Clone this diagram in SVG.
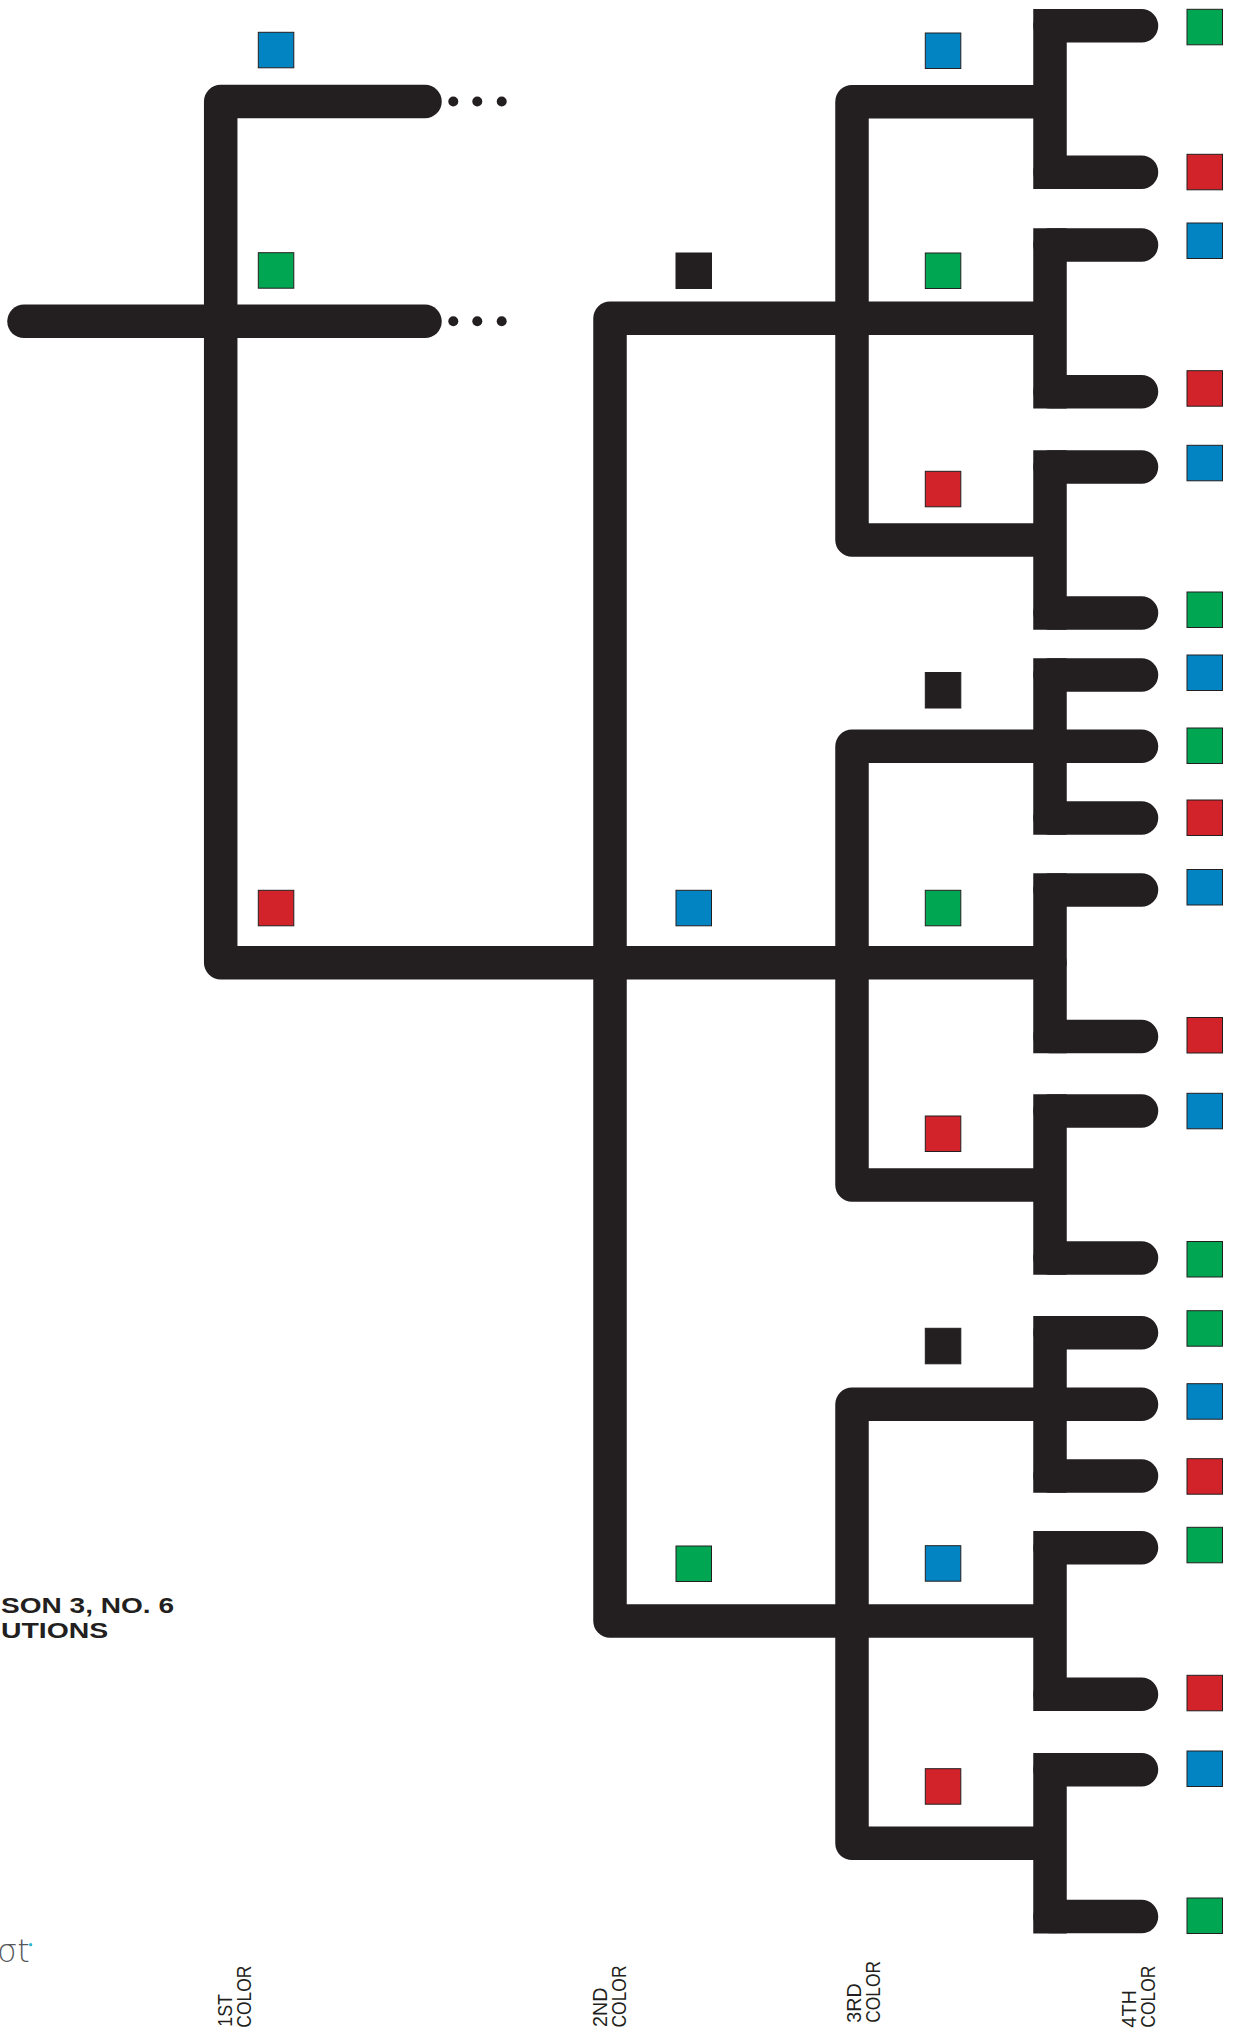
<svg xmlns="http://www.w3.org/2000/svg" width="1237" height="2033" viewBox="0 0 1237 2033">
<style>
.bar{fill:none;stroke:#231f20;stroke-width:33.5;stroke-linejoin:round}
.cap{stroke-linecap:round}
.tine{fill:none;stroke:#231f20;stroke-width:33.5;stroke-linecap:round}
.vb{fill:none;stroke:#231f20;stroke-width:33.5;stroke-linecap:butt}
.dot{fill:#231f20}
.sq{stroke:#231f20;stroke-width:1}
.b{fill:#0284c2}.g{fill:#00a651}.r{fill:#d2232a}.k{fill:#231f20}
.lbl{font-family:"Liberation Sans",Arial,sans-serif;font-size:20px;fill:#231f20}
.ttl{font-family:"Liberation Sans",Arial,sans-serif;font-size:22px;font-weight:bold;fill:#231f20}
</style>
<rect width="1237" height="2033" fill="#ffffff"/>
<g id="connectors">
<path class="bar cap" d="M24,321.3 H425"/>
<path class="bar cap" d="M425,101.5 H220.7 V962.7 H1050"/>
<path class="bar" d="M1050,318.3 H610 V1621 H1050"/>
<path class="bar" d="M1050,101.7 H852 V540 H1050"/>
<path class="bar" d="M1050,746.3 H852 V1185 H1050"/>
<path class="bar" d="M1050,1404.3 H852 V1843.3 H1050"/>
<path class="vb" d="M1050,9 V189 M1050,228.3 V408.4 M1050,450.3 V629.8 M1050,658.3 V834.8 M1050,873.3 V1053.3 M1050,1094.3 V1274.8 M1050,1316 V1492.8 M1050,1531 V1711 M1050,1753 V1933.4"/>
<path class="tine" d="M1050,25.8 H1141.5 M1050,172.2 H1141.5 M1050,245 H1141.5 M1050,391.7 H1141.5 M1050,467 H1141.5 M1050,613 H1141.5 M1050,675 H1141.5 M1050,746.3 H1141.5 M1050,818 H1141.5 M1050,890 H1141.5 M1050,1036.5 H1141.5 M1050,1111 H1141.5 M1050,1258 H1141.5 M1050,1332.7 H1141.5 M1050,1404.3 H1141.5 M1050,1476 H1141.5 M1050,1547.7 H1141.5 M1050,1694.3 H1141.5 M1050,1769.7 H1141.5 M1050,1916.6 H1141.5"/>
<circle class="dot" cx="453.3" cy="101.5" r="5"/>
<circle class="dot" cx="477.3" cy="101.5" r="5"/>
<circle class="dot" cx="501.7" cy="101.5" r="5"/>
<circle class="dot" cx="453.3" cy="321.3" r="5"/>
<circle class="dot" cx="477.3" cy="321.3" r="5"/>
<circle class="dot" cx="501.7" cy="321.3" r="5"/>
</g>
<g id="col1">
<g id="c1-blue"><rect class="sq b" x="258.3" y="32.3" width="35.5" height="35.5"/></g>
<g id="c1-green"><rect class="sq g" x="258.3" y="252.7" width="35.5" height="35.5"/></g>
<g id="c1-red"><rect class="sq r" x="258.3" y="890.3" width="35.5" height="35.5"/></g>
</g>
<g id="col2">
<g id="c2-black"><rect class="sq k" x="676" y="253" width="35.5" height="35.5"/></g>
<g id="c2-blue"><rect class="sq b" x="676" y="890.3" width="35.5" height="35.5"/></g>
<g id="c2-green"><rect class="sq g" x="676" y="1546" width="35.5" height="35.5"/></g>
</g>
<g id="col3">
<g id="c3-a-blue"><rect class="sq b" x="925.3" y="33" width="35.5" height="35.5"/></g>
<g id="c3-a-green"><rect class="sq g" x="925.3" y="253" width="35.5" height="35.5"/></g>
<g id="c3-a-red"><rect class="sq r" x="925.3" y="471.3" width="35.5" height="35.5"/></g>
<g id="c3-b-black"><rect class="sq k" x="925.3" y="672.5" width="35.5" height="35.5"/></g>
<g id="c3-b-green"><rect class="sq g" x="925.3" y="890.3" width="35.5" height="35.5"/></g>
<g id="c3-b-red"><rect class="sq r" x="925.3" y="1116" width="35.5" height="35.5"/></g>
<g id="c3-c-black"><rect class="sq k" x="925.3" y="1328.3" width="35.5" height="35.5"/></g>
<g id="c3-c-blue"><rect class="sq b" x="925.3" y="1545.7" width="35.5" height="35.5"/></g>
<g id="c3-c-red"><rect class="sq r" x="925.3" y="1768.7" width="35.5" height="35.5"/></g>
</g>
<g id="col4">
<g id="c4-01"><rect class="sq g" x="1187" y="9.3" width="35.5" height="35.5"/></g>
<g id="c4-02"><rect class="sq r" x="1187" y="154.3" width="35.5" height="35.5"/></g>
<g id="c4-03"><rect class="sq b" x="1187" y="223" width="35.5" height="35.5"/></g>
<g id="c4-04"><rect class="sq r" x="1187" y="370.7" width="35.5" height="35.5"/></g>
<g id="c4-05"><rect class="sq b" x="1187" y="445.3" width="35.5" height="35.5"/></g>
<g id="c4-06"><rect class="sq g" x="1187" y="592" width="35.5" height="35.5"/></g>
<g id="c4-07"><rect class="sq b" x="1187" y="655" width="35.5" height="35.5"/></g>
<g id="c4-08"><rect class="sq g" x="1187" y="728" width="35.5" height="35.5"/></g>
<g id="c4-09"><rect class="sq r" x="1187" y="800" width="35.5" height="35.5"/></g>
<g id="c4-10"><rect class="sq b" x="1187" y="869.5" width="35.5" height="35.5"/></g>
<g id="c4-11"><rect class="sq r" x="1187" y="1017.5" width="35.5" height="35.5"/></g>
<g id="c4-12"><rect class="sq b" x="1187" y="1093.3" width="35.5" height="35.5"/></g>
<g id="c4-13"><rect class="sq g" x="1187" y="1241.5" width="35.5" height="35.5"/></g>
<g id="c4-14"><rect class="sq g" x="1187" y="1310.7" width="35.5" height="35.5"/></g>
<g id="c4-15"><rect class="sq b" x="1187" y="1383.7" width="35.5" height="35.5"/></g>
<g id="c4-16"><rect class="sq r" x="1187" y="1458.7" width="35.5" height="35.5"/></g>
<g id="c4-17"><rect class="sq g" x="1187" y="1527.3" width="35.5" height="35.5"/></g>
<g id="c4-18"><rect class="sq r" x="1187" y="1675.3" width="35.5" height="35.5"/></g>
<g id="c4-19"><rect class="sq b" x="1187" y="1751" width="35.5" height="35.5"/></g>
<g id="c4-20"><rect class="sq g" x="1187" y="1898" width="35.5" height="35.5"/></g>
</g>
<g id="title">
<text class="ttl" x="1" y="1613.3" textLength="173" lengthAdjust="spacingAndGlyphs">SON 3, NO. 6</text>
<text class="ttl" x="1" y="1638.3" textLength="107.3" lengthAdjust="spacingAndGlyphs">UTIONS</text>
</g>
<g id="logo">
<text x="-3" y="1962" font-family="DejaVu Sans, sans-serif" font-weight="200" font-size="32" fill="#58595b">σt</text>
<circle cx="30.7" cy="1944.7" r="1.6" fill="#29b6d1"/>
</g>
<g id="labels">
<g id="lbl1">
<text class="lbl" transform="translate(231.7,2026.7) rotate(-90)" textLength="32.7" lengthAdjust="spacingAndGlyphs">1ST</text>
<text class="lbl" transform="translate(250.7,2027.7) rotate(-90)" textLength="62" lengthAdjust="spacingAndGlyphs">COLOR</text>
</g>
<g id="lbl2">
<text class="lbl" transform="translate(607,2027) rotate(-90)" textLength="39.4" lengthAdjust="spacingAndGlyphs">2ND</text>
<text class="lbl" transform="translate(625.7,2027.5) rotate(-90)" textLength="62" lengthAdjust="spacingAndGlyphs">COLOR</text>
</g>
<g id="lbl3">
<text class="lbl" transform="translate(861,2022.7) rotate(-90)" textLength="39.3" lengthAdjust="spacingAndGlyphs">3RD</text>
<text class="lbl" transform="translate(880,2022.7) rotate(-90)" textLength="61.7" lengthAdjust="spacingAndGlyphs">COLOR</text>
</g>
<g id="lbl4">
<text class="lbl" transform="translate(1136,2027.7) rotate(-90)" textLength="37.7" lengthAdjust="spacingAndGlyphs">4TH</text>
<text class="lbl" transform="translate(1155,2027.7) rotate(-90)" textLength="62" lengthAdjust="spacingAndGlyphs">COLOR</text>
</g>
</g>
</svg>
